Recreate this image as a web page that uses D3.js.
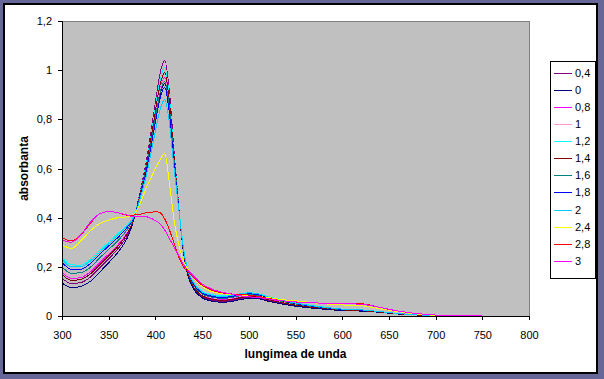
<!DOCTYPE html>
<html>
<head>
<meta charset="utf-8">
<script src="https://cdn.jsdelivr.net/npm/d3@7"></script>
<style>
body { margin: 0; background: #666699; }
svg { display: block; font-family: Arial, "Liberation Sans", sans-serif; }
</style>
</head>
<body>
<svg id="chart" width="604" height="379"></svg>
<script>
// Absorption spectra, one line per series

var wavelengths = [300, 310, 320, 330, 340, 350, 360, 370, 375, 380, 385, 390, 395, 400, 405, 410, 415, 420, 425,
	430, 435, 440, 450, 460, 470, 480, 490, 500, 510, 520, 540, 560, 580, 600, 620, 640, 660, 680, 700, 750];

var seriesNames = ["0,4", "0", "0,8", "1", "1,2", "1,4", "1,6", "1,8", "2", "2,4", "2,8", "3"];
var seriesColors = ["#800080", "#000080", "#FF00FF", "#FF99CC", "#00FFFF", "#800000", "#008080", "#0000FF", "#00CCFF", "#FFFF00", "#FF0000", "#FF00FF"];

var s04 = [0.154, 0.132, 0.136, 0.157, 0.195, 0.233, 0.274, 0.328, 0.372,
	0.443, 0.528, 0.624, 0.741, 0.869, 0.987, 1.04, 0.912, 0.667, 0.448,
	0.262, 0.166, 0.12, 0.078, 0.065, 0.06, 0.062, 0.07, 0.075, 0.073, 0.064, 0.048, 0.037, 0.03, 0.024, 0.021, 0.015, 0.009, 0.004, 0.001, 0];
var s0 = [0.135, 0.115, 0.12, 0.14, 0.177, 0.217, 0.26, 0.318, 0.368,
	0.436, 0.509, 0.591, 0.691, 0.80, 0.90, 0.945, 0.836, 0.627, 0.441,
	0.258, 0.162, 0.116, 0.074, 0.061, 0.056, 0.058, 0.066, 0.071, 0.07, 0.061, 0.046, 0.035, 0.028, 0.022, 0.02, 0.015, 0.008, 0.004, 0.001, 0];
var s08 = [0.177, 0.153, 0.156, 0.178, 0.215, 0.252, 0.29, 0.34, 0.378,
	0.438, 0.514, 0.6, 0.704, 0.818, 0.923, 0.97, 0.856, 0.638, 0.443,
	0.268, 0.173, 0.128, 0.086, 0.073, 0.068, 0.07, 0.078, 0.083, 0.08, 0.07, 0.054, 0.041, 0.033, 0.026, 0.023, 0.017, 0.01, 0.005, 0.002, 0];
var s1 = [0.188, 0.163, 0.165, 0.187, 0.225, 0.261, 0.298, 0.346, 0.381,
	0.438, 0.513, 0.598, 0.701, 0.814, 0.918, 0.965, 0.852, 0.635, 0.442,
	0.27, 0.175, 0.13, 0.088, 0.075, 0.07, 0.072, 0.08, 0.085, 0.082, 0.072, 0.055, 0.042, 0.034, 0.026, 0.024, 0.018, 0.01, 0.005, 0.002, 0];
var s12 = [0.24, 0.208, 0.207, 0.229, 0.265, 0.3, 0.335, 0.372, 0.393,
	0.441, 0.522, 0.614, 0.725, 0.847, 0.959, 1.01, 0.888, 0.654, 0.446,
	0.28, 0.185, 0.142, 0.10, 0.087, 0.082, 0.084, 0.09, 0.095, 0.09, 0.08, 0.062, 0.047, 0.037, 0.028, 0.025, 0.018, 0.01, 0.005, 0.002, 0];
var s14 = [0.169, 0.145, 0.149, 0.17, 0.207, 0.245, 0.284, 0.336, 0.376,
	0.439, 0.518, 0.606, 0.715, 0.833, 0.941, 0.99, 0.872, 0.646, 0.444,
	0.265, 0.17, 0.124, 0.082, 0.069, 0.064, 0.066, 0.074, 0.079, 0.077, 0.067, 0.051, 0.039, 0.032, 0.025, 0.022, 0.016, 0.009, 0.004, 0.002, 0];
var s16 = [0.2, 0.174, 0.176, 0.197, 0.235, 0.271, 0.307, 0.352, 0.384,
	0.437, 0.511, 0.594, 0.696, 0.807, 0.909, 0.955, 0.844, 0.631, 0.442,
	0.27, 0.177, 0.132, 0.09, 0.077, 0.072, 0.074, 0.082, 0.087, 0.084, 0.073, 0.056, 0.043, 0.034, 0.026, 0.024, 0.018, 0.01, 0.005, 0.002, 0];
var s18 = [0.219, 0.19, 0.19, 0.212, 0.25, 0.285, 0.32, 0.362, 0.389,
	0.435, 0.506, 0.585, 0.683, 0.789, 0.886, 0.93, 0.824, 0.621, 0.44,
	0.272, 0.18, 0.136, 0.094, 0.081, 0.076, 0.078, 0.086, 0.09, 0.087, 0.076, 0.058, 0.044, 0.035, 0.027, 0.024, 0.018, 0.01, 0.005, 0.002, 0];
var s2 = [0.232, 0.2, 0.2, 0.222, 0.258, 0.293, 0.329, 0.368, 0.391,
	0.432, 0.496, 0.568, 0.656, 0.752, 0.84, 0.88, 0.784, 0.6, 0.436,
	0.275, 0.182, 0.14, 0.098, 0.085, 0.08, 0.082, 0.09, 0.094, 0.09, 0.078, 0.06, 0.046, 0.036, 0.028, 0.025, 0.018, 0.01, 0.005, 0.002, 0];
var s24 = [0.29, 0.275, 0.305, 0.345, 0.375, 0.39, 0.40, 0.403, 0.405,
	0.43, 0.47, 0.52, 0.56, 0.60, 0.635, 0.66, 0.54, 0.39, 0.29,
	0.225, 0.19, 0.16, 0.12, 0.10, 0.092, 0.088, 0.085, 0.085, 0.08, 0.075, 0.065, 0.058, 0.05, 0.045, 0.042, 0.03, 0.018, 0.008, 0.003, 0];
var s28 = [0.32, 0.305, 0.33, 0.375, 0.415, 0.425, 0.42, 0.41, 0.41,
	0.412, 0.415, 0.42, 0.422, 0.424, 0.42, 0.395, 0.35, 0.295, 0.24,
	0.20, 0.18, 0.16, 0.125, 0.105, 0.095, 0.09, 0.088, 0.085, 0.08, 0.072, 0.06, 0.055, 0.052, 0.05, 0.05, 0.035, 0.02, 0.01, 0.004, 0];
var s3 = [0.31, 0.30, 0.33, 0.38, 0.415, 0.425, 0.42, 0.41, 0.405,
	0.405, 0.405, 0.404, 0.398, 0.388, 0.375, 0.35, 0.315, 0.28, 0.245,
	0.21, 0.185, 0.165, 0.13, 0.11, 0.098, 0.09, 0.083, 0.078, 0.075, 0.07, 0.06, 0.055, 0.052, 0.05, 0.048, 0.035, 0.02, 0.01, 0.004, 0];

var allSeries = [s04, s0, s08, s1, s12, s14, s16, s18, s2, s24, s28, s3];

var xTicks = [300, 350, 400, 450, 500, 550, 600, 650, 700, 750, 800];
var yTicks = [0, 0.2, 0.4, 0.6, 0.8, 1, 1.2];

var svg = d3.select('#chart');
var plotLeft = 62, plotRight = 529, plotTop = 21, plotBottom = 316;
var roLocale = d3.formatLocale({decimal: ",", thousands: ".", grouping: [3], currency: ["", ""]});

var x = d3.scaleLinear().domain([300, 800]).range([plotLeft, plotRight]);
var y = d3.scaleLinear().domain([0, 1.2]).range([plotBottom, plotTop]);

// White chart panel with black frame
svg.append("rect")
	.attr("x", 4).attr("y", 4)
	.attr("width", 593).attr("height", 369)
	.attr("fill", "white")
	.attr("stroke", "black")
	.attr("stroke-width", 2);

// Gray plot area
svg.append("rect")
	.attr("x", plotLeft).attr("y", plotTop)
	.attr("width", plotRight - plotLeft).attr("height", plotBottom - plotTop)
	.attr("fill", "#C0C0C0")
	.attr("stroke", "#808080")
	.attr("stroke-width", 1)
	.attr("shape-rendering", "crispEdges");

var lineMaker = d3.line()
	.x(function(d) { return x(d[0]); })
	.y(function(d) { return y(d[1]); })
	.curve(d3.curveMonotoneX);

// Series drawn in legend order, later ones on top
var lineGroup = svg.append("g");
for (var i = 0; i < allSeries.length; i++) {
	let pts = wavelengths.map(function(w, j) { return [w, allSeries[i][j]]; });
	lineGroup.append("path")
		.attr("d", lineMaker(pts))
		.attr("fill", "none")
		.attr("stroke", seriesColors[i])
		.attr("stroke-width", 1)
		.attr("shape-rendering", "crispEdges");
}

// Axes
var xAxis = d3.axisBottom(x).tickValues(xTicks).tickSize(4).tickPadding(11).tickFormat(d3.format("d"));
var yAxis = d3.axisLeft(y).tickValues(yTicks).tickSize(4).tickPadding(6).tickFormat(roLocale.format("~g"));

var xg = svg.append("g")
	.attr("transform", "translate(0," + plotBottom + ")")
	.call(xAxis);
var yg = svg.append("g")
	.attr("transform", "translate(" + plotLeft + ",0)")
	.call(yAxis);

[xg, yg].forEach(function(g) {
	g.selectAll("path, line").attr("stroke", "black").attr("shape-rendering", "crispEdges");
	g.selectAll("text").attr("fill", "black").style("font-size", "11px").style("font-family", "Arial, 'Liberation Sans', sans-serif");
});

// Axis titles
svg.append("text")
	.attr("x", (plotLeft + plotRight) / 2)
	.attr("y", 358)
	.attr("text-anchor", "middle")
	.style("font-size", "12px")
	.style("font-weight", "bold")
	.text("lungimea de unda");

svg.append("text")
	.attr("transform", "translate(28," + ((plotTop + plotBottom) / 2) + ") rotate(-90)")
	.attr("text-anchor", "middle")
	.style("font-size", "12px")
	.style("font-weight", "bold")
	.text("absorbanta");

// Legend
var legend = svg.append("g");
legend.append("rect")
	.attr("x", 550.5).attr("y", 61.5)
	.attr("width", 45).attr("height", 217)
	.attr("fill", "white")
	.attr("stroke", "black")
	.attr("stroke-width", 1);

for (var k = 0; k < seriesNames.length; k++) {
	let yOff = 72.7 + 17.1 * k;
	legend.append("line")
		.attr("x1", 554).attr("x2", 572)
		.attr("y1", Math.round(yOff) + 0.5).attr("y2", Math.round(yOff) + 0.5)
		.attr("stroke", seriesColors[k])
		.attr("stroke-width", 1);
	legend.append("text")
		.attr("x", 575)
		.attr("y", yOff + 4)
		.style("font-size", "11px")
		.text(seriesNames[k]);
}
</script>
</body>
</html>
